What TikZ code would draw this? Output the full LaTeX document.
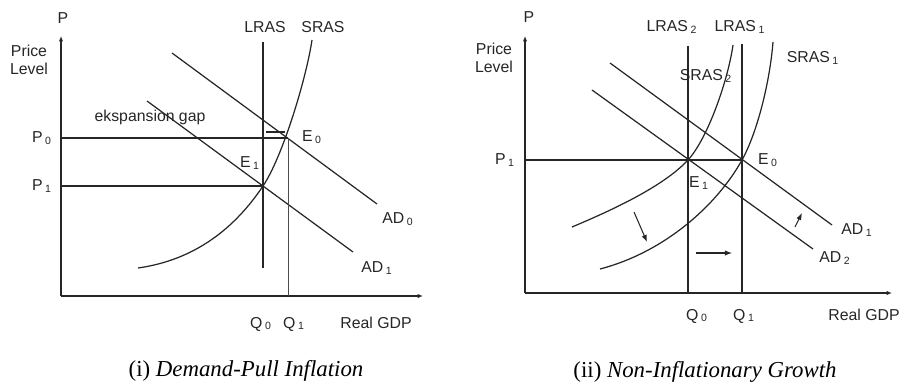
\documentclass[tikz,border=0pt]{standalone}
\usepackage{fontspec}
\setmainfont{Liberation Serif}
\setsansfont{Liberation Sans}
\usetikzlibrary{arrows.meta}
\tikzset{
  lbl/.style={font=\sffamily\fontsize{9}{10.5}\selectfont, inner sep=0pt, text=black!85},
  axis/.style={line width=0.7pt, draw=black!85, -{Latex[length=3pt,width=2.4pt]}},
  graph/.style={line width=0.7pt, draw=black!85},
  guide/.style={line width=0.6pt, draw=black!85},
  thinguide/.style={line width=0.3pt, draw=black!70},
  shiftarrow/.style={line width=0.6pt, draw=black!85, -{Latex[length=4pt,width=3pt]}},
  caption/.style={font=\fontsize{13}{15}\selectfont, inner sep=0pt}
}
\newcommand{\lsub}[1]{\,\textsubscript{#1}}
\begin{document}
\begin{tikzpicture}[x=0.02cm, y=-0.02cm]
\useasboundingbox (0,0) rectangle (902,385);

% (i) demand-pull inflation
\coordinate (oA) at (61,296);
\coordinate (yA) at (61,36);
\coordinate (xA) at (423,296);
\coordinate (E0A) at (288,138);
\coordinate (E1A) at (263,186);
\coordinate (lrasAtop) at (263,42);
\coordinate (lrasAbot) at (263,268);
\coordinate (srasAbot) at (138,268);
\coordinate (srasAtop) at (312,40);
\coordinate (adAa) at (172,53);
\coordinate (adAb) at (377,204);
\coordinate (adBa) at (147,101);
\coordinate (adBb) at (353,252);
\coordinate (gapa) at (266,132);
\coordinate (gapb) at (285,132);

\draw[axis] (oA) -- (yA);
\draw[axis] (oA) -- (xA);
\draw[graph] (lrasAtop) -- (lrasAbot);
\draw[graph] (srasAbot) .. controls (195,260) and (235,228) .. (E1A)
  .. controls (282,158) and (306,80) .. (srasAtop);
\draw[graph] (adAa) -- (adAb);
\draw[graph] (adBa) -- (adBb);
\draw[guide] (oA |- E0A) -- (E0A);
\draw[guide] (oA |- E1A) -- (E1A);
\draw[thinguide] (E0A) -- (E0A |- oA);
\draw[guide] (gapa) -- (gapb);

\node[lbl] (pA) at (63,18) {P};
\node[lbl, align=center] (plA) at (29,60) {Price\\Level};
\node[lbl] (lrasA) at (265,27) {LRAS};
\node[lbl] (srasA) at (323,27) {SRAS};
\node[lbl] (gapA) at (150,117) {ekspansion gap};
\node[lbl] (p0A) at (42,138) {P\lsub{0}};
\node[lbl] (p1A) at (42,186) {P\lsub{1}};
\node[lbl] (e0A) at (312,137) {E\lsub{0}};
\node[lbl] (e1A) at (250,163) {E\lsub{1}};
\node[lbl] (ad0A) at (398,219) {AD\lsub{0}};
\node[lbl] (ad1A) at (377,268) {AD\lsub{1}};
\node[lbl] (q0A) at (261,324) {Q\lsub{0}};
\node[lbl] (q1A) at (294,324) {Q\lsub{1}};
\node[lbl] (gdpA) at (376,323) {Real GDP};
\node[caption] (capA) at (246,371) {(i) \textit{Demand-Pull Inflation}};

% (ii) non-inflationary growth
\coordinate (oB) at (525,293);
\coordinate (yB) at (525,36);
\coordinate (xB) at (892,293);
\coordinate (E0B) at (742,160);
\coordinate (E1B) at (688,160);
\coordinate (lrasBtop) at (688,46);
\coordinate (lrasCtop) at (742,44);
\coordinate (srasBbot) at (572,227);
\coordinate (srasBtop) at (733,45);
\coordinate (srasCbot) at (600,269);
\coordinate (srasCtop) at (773,42);
\coordinate (adCa) at (610,63);
\coordinate (adCb) at (832,225);
\coordinate (adDa) at (592,90);
\coordinate (adDb) at (813,249);
\coordinate (sa) at (634,212);
\coordinate (sb) at (647,242);
\coordinate (ha) at (696,253);
\coordinate (hb) at (732,253);
\coordinate (ua) at (795,227);
\coordinate (ub) at (802,213);

\draw[axis] (oB) -- (yB);
\draw[axis] (oB) -- (xB);
\draw[graph] (lrasBtop) -- (lrasBtop |- oB);
\draw[graph] (lrasCtop) -- (lrasCtop |- oB);
\draw[graph] (srasBbot) .. controls (610,211) and (663,187) .. (E1B)
  .. controls (708,138) and (728,80) .. (srasBtop);
\draw[graph] (srasCbot) .. controls (665,252) and (717,205) .. (E0B)
  .. controls (758,131) and (770,80) .. (srasCtop);
\draw[graph] (adCa) -- (adCb);
\draw[graph] (adDa) -- (adDb);
\draw[guide] (oB |- E0B) -- (E0B);
\draw[shiftarrow] (sa) -- (sb);
\draw[shiftarrow] (ha) -- (hb);
\draw[shiftarrow] (ua) -- (ub);

\node[lbl] (pB) at (529,17) {P};
\node[lbl, align=center] (plB) at (494,58) {Price\\Level};
\node[lbl] (lras2B) at (672,27) {LRAS\lsub{2}};
\node[lbl] (lras1B) at (740,27) {LRAS\lsub{1}};
\node[lbl] (sras1B) at (813,58) {SRAS\lsub{1}};
\node[lbl] (sras2B) at (706,76) {SRAS\lsub{2}};
\node[lbl] (p1B) at (505,160) {P\lsub{1}};
\node[lbl] (e0B) at (768,160) {E\lsub{0}};
\node[lbl] (e1B) at (699,183) {E\lsub{1}};
\node[lbl] (ad1B) at (857,230) {AD\lsub{1}};
\node[lbl] (ad2B) at (835,258) {AD\lsub{2}};
\node[lbl] (q0B) at (697,316) {Q\lsub{0}};
\node[lbl] (q1B) at (744,316) {Q\lsub{1}};
\node[lbl] (gdpB) at (864,315) {Real GDP};
\node[caption] (capB) at (705,372) {(ii) \textit{Non-Inflationary Growth}};
\end{tikzpicture}
\end{document}
